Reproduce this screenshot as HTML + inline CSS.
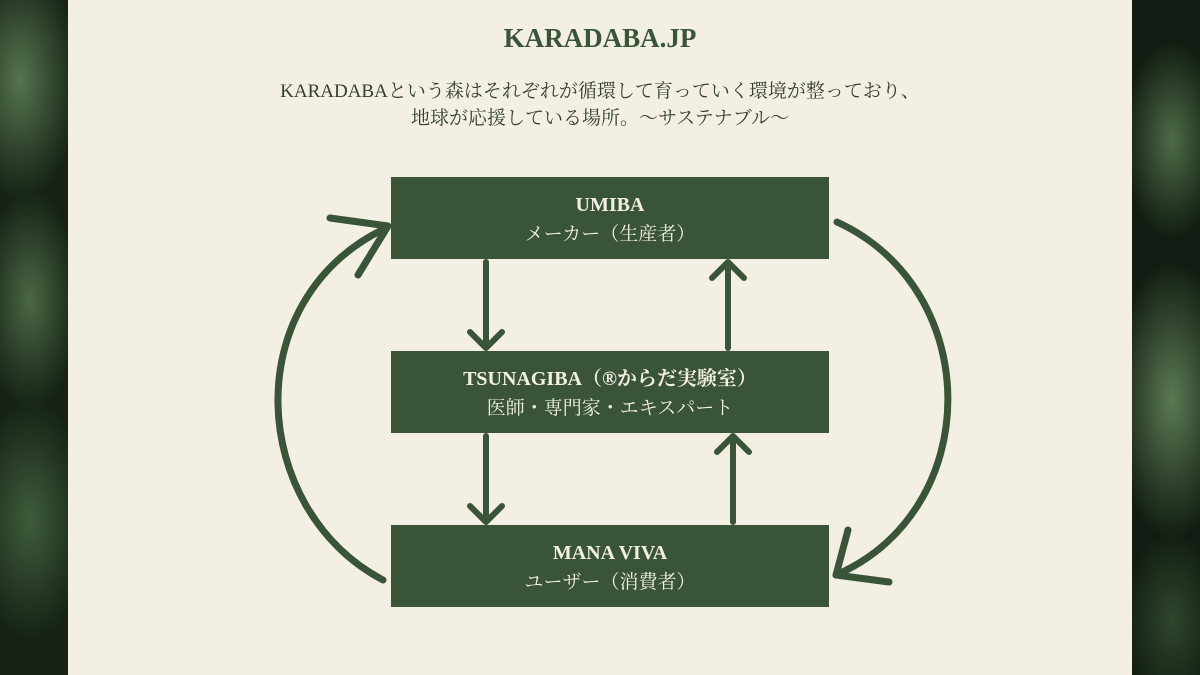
<!DOCTYPE html>
<html><head><meta charset="utf-8"><style>
body{margin:0;width:1200px;height:675px;overflow:hidden;background:#f3efe2;position:relative;font-family:"Liberation Serif","Noto Serif CJK SC",serif}
.leaf{position:absolute;top:0;width:68px;height:675px}
.box{position:absolute;left:391px;width:438px;height:82px;background:#3a5438;color:#f3efe2;text-align:center;font-size:19px;line-height:29px;box-sizing:border-box;padding-top:14px}
.box b{font-size:20px}
</style></head><body>
<div class="leaf" style="left:0;background:radial-gradient(ellipse 60px 120px at 20px 80px,#55744d,transparent),radial-gradient(ellipse 50px 110px at 30px 300px,#4a6843,transparent),radial-gradient(ellipse 60px 120px at 30px 520px,#3f5c3a,transparent),#162216"></div>
<div class="leaf" style="left:1132px;background:radial-gradient(ellipse 50px 100px at 40px 140px,#4d6b46,transparent),radial-gradient(ellipse 60px 140px at 40px 400px,#5a7a52,transparent),radial-gradient(ellipse 50px 90px at 40px 620px,#2e462c,transparent),#121c12"></div>
<div style="position:absolute;left:0;right:0;top:23px;text-align:center;color:#3a5438;font-weight:bold;font-size:27px">KARADABA.JP</div>
<div style="position:absolute;left:0;right:0;top:78px;text-align:center;color:#33402f;font-size:19px;line-height:27px">KARADABAという森はそれぞれが循環して育っていく環境が整っており、<br>地球が応援している場所。〜サステナブル〜</div>
<div class="box" style="top:177px"><b>UMIBA</b><br>メーカー（生産者）</div>
<div class="box" style="top:351px"><b>TSUNAGIBA（®からだ実験室）</b><br>医師・専門家・エキスパート</div>
<div class="box" style="top:525px"><b>MANA VIVA</b><br>ユーザー（消費者）</div>
<svg width="1200" height="675" style="position:absolute;left:0;top:0" fill="none" stroke="#3a5438" stroke-width="6" stroke-linecap="round" stroke-linejoin="round">
<path d="M486 262V346M470 332L486 348L502 332"/>
<path d="M486 436V520M470 506L486 522L502 506"/>
<path d="M728 348V264M712 278L728 262L744 278"/>
<path d="M733 522V438M717 452L733 436L749 452"/>
<path d="M383 580C250 510 235 300 386 228" stroke-width="7"/>
<path d="M330 218L388 226L358 275" stroke-width="7"/>
<path d="M837 222C985 290 985 510 836 575" stroke-width="7"/>
<path d="M848 530L836 575L889 582" stroke-width="7"/>
</svg>
</body></html>
